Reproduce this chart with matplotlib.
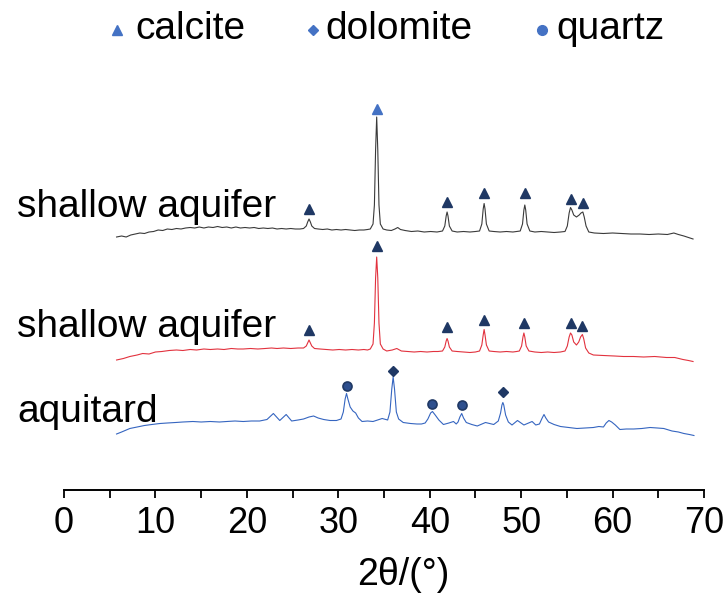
import matplotlib
matplotlib.use('Agg')
from matplotlib import pyplot as plt

plt.rcParams['font.family'] = ['Liberation Sans', 'DejaVu Sans']

# 2theta (deg) and relative intensity (a.u.)
black_x = [5.75, 6.3, 6.8, 7.3, 7.8, 8.3, 8.8, 9.3, 9.8, 10.3, 10.8, 11.3, 11.8, 12.3, 12.8,
           13.3, 13.8, 14.3, 14.8, 15.3, 15.8, 16.3, 16.8, 17.3, 17.8, 18.3, 18.8, 19.3, 19.8,
           20.3, 20.8, 21.3, 21.8, 22.3, 22.8, 23.3, 23.8, 24.3, 24.8, 25.3, 25.8,
           26.2, 26.5, 26.65, 26.8, 26.95, 27.1, 27.4,
           27.8, 28.3, 28.8, 29.3, 29.8, 30.3, 30.8, 31.3, 31.8, 32.3, 32.8, 33.2,
           33.5, 33.8, 33.95, 34.08, 34.2, 34.32, 34.45, 34.6, 34.9,
           35.3, 35.8, 36.2, 36.5, 36.8, 37.3, 38.0, 38.7, 39.4, 40.1, 40.8,
           41.4, 41.65, 41.8, 41.9, 42.0, 42.15, 42.45,
           43.0, 43.7, 44.4, 45.0,
           45.45, 45.7, 45.85, 45.95, 46.05, 46.2, 46.5,
           47.0, 47.7, 48.4, 49.1, 49.5,
           49.9, 50.15, 50.3, 50.4, 50.5, 50.65, 50.95,
           51.5, 52.2, 52.9, 53.6, 54.3,
           54.8, 55.05, 55.25, 55.4, 55.55, 55.75, 56.05, 56.35, 56.55, 56.75, 56.9, 57.1, 57.4,
           58.0, 59.0, 60.0, 61.0, 62.0, 63.0, 64.0, 65.0, 66.0, 66.7, 67.2, 67.8, 68.3, 68.8]
black_y = [3, 4, 3, 5, 6, 7, 6.5, 8, 8.5, 10, 9.5, 11, 10.5, 11.5, 11, 12, 12.5, 12, 13, 12,
           13, 12.5, 13.5, 12.5, 13, 12, 13, 12, 12.5, 12, 12.5, 11.5, 12, 11.5, 12, 11, 11.5,
           11, 11.5, 11, 11,
           11.5, 14, 18, 21, 18, 14, 11.5,
           11, 10.5, 11, 10, 10.5, 10, 10.5, 10, 9.5, 10, 10, 10.5,
           11, 16, 35, 90, 123, 90, 35, 16, 11,
           10, 9.5, 11, 12.5, 10.5, 9.5, 8.5, 9, 8, 8.5, 8,
           9, 14, 24, 28, 24, 14, 9,
           8, 8.5, 8, 8.5,
           9, 16, 31, 36.5, 31, 16, 9,
           8.5, 8, 8.5, 8, 8.5,
           9, 16, 30, 35, 30, 16, 9,
           8, 8.5, 8, 7.5, 8,
           8.5, 14, 27, 32.5, 30, 25, 23, 25, 27, 28, 23, 14, 8,
           7, 6.5, 7, 6.5, 6, 6, 5.5, 6, 5.5, 7, 5.5, 4, 2.5, 1]

red_x = [5.75, 6.5, 7.2, 8.0, 8.6, 9.3, 10.0, 10.7, 11.5, 12.3, 13.0, 13.8, 14.5, 15.3, 16.0,
         16.8, 17.5, 18.3, 19.0, 19.6, 20.4, 21.2, 22.0, 22.7, 23.3, 24.0, 24.8, 25.6,
         26.2, 26.5, 26.65, 26.8, 26.95, 27.1, 27.4,
         28.0, 28.7, 29.4, 30.1, 30.8, 31.5, 32.2, 32.8, 33.2,
         33.5, 33.8, 33.95, 34.08, 34.2, 34.32, 34.45, 34.6, 34.9,
         35.3, 35.9, 36.4, 36.9, 37.6, 38.3, 39.0, 39.7, 40.4, 40.9,
         41.4, 41.65, 41.8, 41.9, 42.0, 42.15, 42.45,
         43.0, 43.7, 44.4, 45.0,
         45.45, 45.7, 45.85, 45.95, 46.05, 46.2, 46.5,
         47.0, 47.7, 48.4, 49.1, 49.5,
         49.8, 50.05, 50.2, 50.3, 50.4, 50.55, 50.85,
         51.5, 52.2, 52.9, 53.6, 54.3,
         54.8, 55.05, 55.25, 55.4, 55.55, 55.75, 56.05, 56.3, 56.5, 56.7, 56.85, 57.05, 57.4,
         57.9, 59.0, 60.2, 61.2, 62.3, 63.4, 64.6, 65.9, 66.8, 67.7, 68.3, 68.8]
red_y = [3, 4.5, 6.5, 8, 9.5, 9, 11, 11.5, 12.5, 13, 12.5, 13.5, 13, 14, 13.5, 14, 13.5, 14.5,
         14, 14, 14.5, 14, 14.5, 15, 14.5, 15, 14.5, 15,
         15, 17, 20, 23, 20, 17, 14.5,
         14, 13.5, 13, 13.5, 13, 13.5, 13, 13.5, 13,
         14, 19, 40, 85, 106, 85, 40, 19, 14,
         12, 13, 14.5, 12, 11.5, 11, 11.5, 11, 11.5, 11.5,
         12, 16, 22, 24.5, 22, 16, 12,
         11.5, 11, 10.5, 11,
         12, 18, 28, 33.5, 28, 18, 12,
         11.5, 11, 11.5, 11, 11.5,
         12, 17, 26, 30, 26, 17, 12,
         11, 10.5, 11, 10.5, 11,
         12, 17, 26, 30, 28, 21, 18, 21, 26, 28.5, 24, 15, 10,
         8, 7.5, 7, 6.5, 6.5, 6, 6.5, 5.5, 5.5, 3.5, 2.5, 1.5]

blue_x = [5.75, 6.3, 7.2, 8.0, 8.8, 9.6, 10.5, 11.3, 12.2, 13.0, 14.1, 15.0, 16.0, 17.0, 17.8,
          18.7, 19.6, 20.5, 21.4, 22.2, 22.9, 23.6, 24.3, 24.9, 25.6, 26.2, 26.8, 27.3, 27.8,
          28.4, 29.1, 29.8,
          30.3, 30.55, 30.75, 30.9, 31.05, 31.3, 31.6, 31.9, 32.2, 32.6,
          33.2, 33.8, 34.3, 34.8,
          35.4, 35.65, 35.85, 36.0, 36.15, 36.35, 36.6, 37.1,
          37.9, 38.6, 39.1,
          39.5, 39.8, 40.1, 40.3, 40.6, 41.0, 41.5,
          42.1, 42.6, 42.9,
          43.1, 43.3, 43.5, 43.7, 44.0,
          44.6, 45.2, 46.1, 47.0,
          47.5, 47.75, 47.9, 48.0, 48.1, 48.3, 48.6,
          49.0, 49.6, 50.3, 51.2, 51.6,
          52.0, 52.3, 52.5, 52.7, 53.0,
          53.6, 54.3, 55.2, 56.1, 57.0, 57.9, 58.5,
          59.0, 59.3, 59.6, 59.9, 60.3,
          60.8, 61.5, 62.3, 63.2, 64.1, 64.9, 65.6, 66.5, 67.2, 67.8, 68.4, 68.9]
blue_y = [3, 5, 8.5, 10, 11.5, 12.5, 13.5, 14, 14.5, 15, 15.5, 15, 15.5, 15, 15.5, 16, 15.5,
          16, 16, 17.5, 23.5, 16.5, 22.5, 16, 17, 18, 20, 21, 19, 17.5, 16.5, 16.5,
          18, 25, 38, 43.5, 38, 30, 26, 24, 19, 15.5,
          16, 15.5, 17, 18.5,
          17, 25, 48, 60, 48, 25, 18, 14.5,
          13.5, 13, 13,
          14, 18, 24, 25.5, 22, 17, 12.5,
          14, 15.5, 13,
          15, 20, 23.5, 19, 14.5,
          12.5, 11, 14.5, 12.5,
          16, 24, 32, 34.5, 32, 22, 15,
          12, 16.5, 12, 15.5, 12,
          13, 19, 22.5, 19, 15,
          12.5, 10.5, 9.5, 8.5, 9, 9.5, 10.5,
          10, 14, 16.5, 15, 12,
          7.5, 8, 8, 8.5, 9.5, 9, 8.5, 6, 5, 3.5, 2.5, 1.5]

black_off = 250
red_off = 127
blue_off = 53

# peak markers: position and height (relative to each trace's offset)
black_calcite_x = [26.8, 41.9, 45.95, 50.4, 55.4, 56.75]
black_calcite_y = [31, 38.5, 47, 47, 41, 37]
black_main_x = [34.2]
black_main_y = [131]
red_calcite_x = [26.8, 34.2, 41.9, 45.95, 50.3, 55.4, 56.7]
red_calcite_y = [33, 117, 36.5, 43, 40.5, 40.5, 37.5]
blue_quartz_x = [30.9, 40.3, 43.5]
blue_quartz_y = [51, 33, 32]
blue_dolomite_x = [36.0, 48.0]
blue_dolomite_y = [66, 45]

sample_labels = ['shallow aquifer', 'shallow aquifer', 'aquitard']
legend_names = ['calcite', 'dolomite', 'quartz']

navy = '#1f3864'
light = '#4472c4'

fig = plt.figure(figsize=(7.25, 5.95), dpi=100)
ax = fig.add_axes([64 / 725, 1 - 490 / 595, 640 / 725, 395 / 595])

ax.plot(black_x, [v + black_off for v in black_y], color='#3a3a3a', lw=0.8)
ax.plot(red_x, [v + red_off for v in red_y], color='#e2323e', lw=0.8)
ax.plot(blue_x, [v + blue_off for v in blue_y], color='#3565c0', lw=0.8)

ax.plot(black_calcite_x, [v + black_off for v in black_calcite_y], '^', color=navy, ms=7, ls='none')
ax.plot(black_main_x, [v + black_off for v in black_main_y], '^', color=light, ms=7, ls='none')
ax.plot(red_calcite_x, [v + red_off for v in red_calcite_y], '^', color=navy, ms=7, ls='none')
ax.plot(blue_quartz_x, [v + blue_off for v in blue_quartz_y], 'o', mfc='#2d4f8e', mec=navy,
        mew=1.2, ms=6.5, ls='none')
ax.plot(blue_dolomite_x, [v + blue_off for v in blue_dolomite_y], 'D', color=navy, ms=5, ls='none')

ax.set_xlim(0, 70)
ax.set_ylim(0, 395)
for s in ['top', 'right', 'left']:
    ax.spines[s].set_visible(False)
ax.spines['bottom'].set_linewidth(1.4)
ax.set_yticks([])
ax.set_xticks(range(0, 71, 10))
ax.set_xticks(range(5, 70, 10), minor=True)
ax.tick_params(axis='x', which='both', direction='out', length=5.5, width=1.3, pad=6,
               labelsize=26)
ax.set_xlabel('2θ/(°)', fontsize=27, labelpad=11)
ax.xaxis.set_label_coords(0.53, -0.17)

# sample names
for name, base in zip(sample_labels, [217, 337, 422]):
    fig.text(17 / 725, 1 - base / 595, name, fontsize=28, va='baseline', ha='left')

# legend across the top
leg_marks = ['^', 'D', 'o']
leg_sizes = [7, 5, 7]
leg_mx = [117, 313, 542]
leg_tx = [135, 325, 556]
for name, m, sz, mx, tx in zip(legend_names, leg_marks, leg_sizes, leg_mx, leg_tx):
    fig.lines.append(plt.Line2D([mx / 725], [1 - 30 / 595], marker=m, color=light, ms=sz,
                                ls='none', transform=fig.transFigure, figure=fig))
    fig.text(tx / 725, 1 - 39 / 595, name, fontsize=28, va='baseline', ha='left')

fig.savefig('out.png', dpi=100)
